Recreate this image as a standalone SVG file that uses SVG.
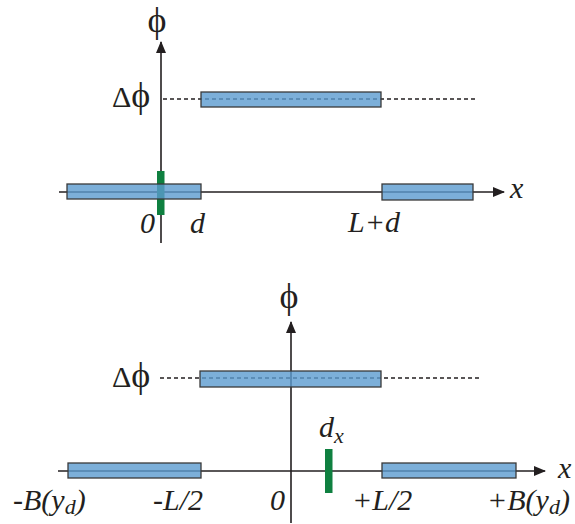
<svg xmlns="http://www.w3.org/2000/svg" width="575" height="524" viewBox="0 0 575 524">
<style>
.ax{stroke:#231f20;stroke-width:1.6;fill:none}
.dash{stroke:#231f20;stroke-width:1.4;stroke-dasharray:4 3;fill:none}
.bar{fill:#5b9bd0;fill-opacity:0.8;stroke:#3a3a3a;stroke-width:1.3}
.grn{fill:#0f8040}
.t{font-family:'Liberation Serif','Times New Roman',serif;font-size:30px;font-style:italic;fill:#231f20}
.r{font-family:'Liberation Serif','Times New Roman',serif;font-size:36px;fill:#231f20}
.dl{font-size:30px}
</style>
<defs>
<marker id="ah" markerWidth="12" markerHeight="10" refX="11" refY="5" orient="auto" markerUnits="userSpaceOnUse">
<path d="M0,0 L12,5 L0,10 Z" fill="#231f20"/>
</marker>
</defs>
<g id="connectors">
<line class="ax" x1="161" y1="243" x2="161" y2="42" marker-end="url(#ah)"/>
<line class="ax" x1="59" y1="192" x2="504" y2="192" marker-end="url(#ah)"/>
<line class="dash" x1="163" y1="99" x2="476" y2="99"/>
<line class="ax" x1="291" y1="523" x2="291" y2="322" marker-end="url(#ah)"/>
<line class="ax" x1="58" y1="471" x2="545" y2="471" marker-end="url(#ah)"/>
<line class="dash" x1="160" y1="378" x2="479" y2="378"/>
</g>
<g id="top-detector"><rect class="grn" x="157" y="171" width="7.5" height="44"/></g>
<g id="top-bar-left"><rect class="bar" x="67" y="184" width="134" height="15"/></g>
<g id="top-bar-mid"><rect class="bar" x="201" y="92" width="180" height="15"/></g>
<g id="top-bar-right"><rect class="bar" x="382" y="184" width="91" height="16"/></g>
<g id="bottom-detector"><rect class="grn" x="325" y="449" width="7.5" height="44"/></g>
<g id="bottom-bar-left"><rect class="bar" x="68" y="463" width="133" height="15"/></g>
<g id="bottom-bar-mid"><rect class="bar" x="200" y="371" width="181" height="16"/></g>
<g id="bottom-bar-right"><rect class="bar" x="382" y="463" width="134" height="15"/></g>
<g id="labels">
<text class="r" x="157" y="32" text-anchor="middle" font-size="34">ϕ</text>
<text class="r" x="112" y="107"><tspan class="dl">Δ</tspan>ϕ</text>
<text class="t" x="140" y="233">0</text>
<text class="t" x="190" y="233">d</text>
<text class="t" x="348" y="232">L+d</text>
<text class="t" x="510" y="198">x</text>
<text class="r" x="289" y="308" text-anchor="middle">ϕ</text>
<text class="r" x="112" y="387"><tspan class="dl">Δ</tspan>ϕ</text>
<text class="t" x="319" y="437">d<tspan font-size="22" dy="6">x</tspan></text>
<text class="t" x="13" y="510">-B(y<tspan font-size="22" dy="4">d</tspan><tspan dy="-4">)</tspan></text>
<text class="t" x="153" y="510">-L/2</text>
<text class="t" x="270" y="510">0</text>
<text class="t" x="352" y="510">+L/2</text>
<text class="t" x="487" y="510">+B(y<tspan font-size="22" dy="4">d</tspan><tspan dy="-4">)</tspan></text>
<text class="t" x="558" y="478">x</text>
</g>
</svg>
